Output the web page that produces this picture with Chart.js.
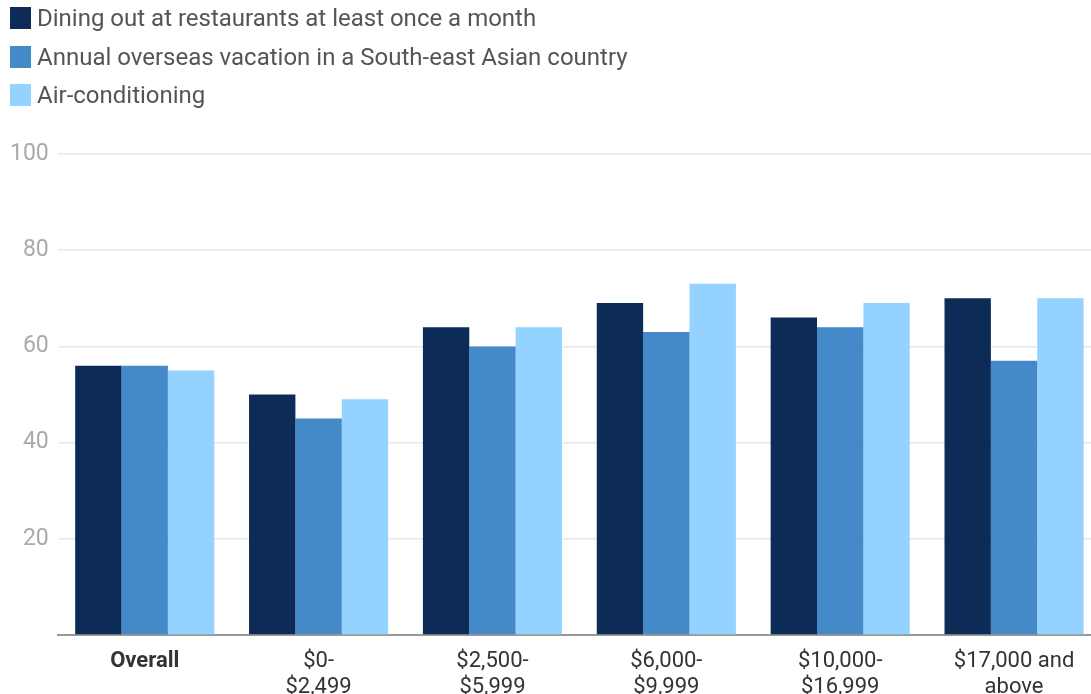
<!DOCTYPE html>
<html><head><meta charset="utf-8">
<script src="https://cdn.jsdelivr.net/npm/chart.js@4/dist/chart.umd.min.js"></script>
<style>
html,body{margin:0;padding:0;background:#fff;overflow:hidden;width:1091px;height:694px;}
#wrap{position:absolute;left:0;top:0;width:1101px;height:705px;}
#legend{position:absolute;left:10px;top:-1px;font-family:Roboto,"Noto Sans",sans-serif;font-size:24px;color:#555;z-index:2;}
.item{display:flex;align-items:center;height:38.5px;}
.box{width:21px;height:22px;margin-right:6px;}
</style></head>
<body>
<div id="wrap"><canvas id="c" width="1101" height="705"></canvas></div>
<div id="legend"></div>
<script>
const categories = [["Overall"], ["$0-", "$2,499"], ["$2,500-", "$5,999"], ["$6,000-", "$9,999"], ["$10,000-", "$16,999"], ["$17,000 and", "above"]];
const seriesNames = ["Dining out at restaurants at least once a month", "Annual overseas vacation in a South-east Asian country", "Air-conditioning"];
const dining = [56, 50, 64, 69, 66, 70];
const vacation = [56, 45, 60, 63, 64, 57];
const aircon = [55, 49, 64, 73, 69, 70];
const colors = ["#0d2b57", "#4489c8", "#94d2ff"];
const yTicks = [0, 20, 40, 60, 80, 100];

const values = [dining, vacation, aircon];
const leg = document.getElementById('legend');
seriesNames.forEach((n,i)=>{
  const d=document.createElement('div');d.className='item';
  const b=document.createElement('span');b.className='box';b.style.background=colors[i];
  const t=document.createElement('span');t.textContent=n;
  d.appendChild(b);d.appendChild(t);leg.appendChild(d);
});

new Chart(document.getElementById('c'), {
  type: 'bar',
  data: {
    labels: categories,
    datasets: seriesNames.map((n,i)=>({label:n, data:values[i], backgroundColor:colors[i], borderWidth:0}))
  },
  options: {
    responsive:false, animation:false,
    layout:{padding:{top:154,left:1,right:0,bottom:0}},
    plugins:{legend:{display:false}, tooltip:{enabled:false}},
    datasets:{bar:{categoryPercentage:0.8, barPercentage:1.0}},
    scales:{
      x:{
        grid:{display:false},
        border:{color:'#999', width:2},
        ticks:{color:'#333', padding:5, maxRotation:0,
          font:(ctx)=>({family:'Roboto', size:22, weight: ctx.index===0 ? 'bold':'normal', lineHeight:26/22})}
      },
      y:{
        min:0, max:100,
        afterBuildTicks:(ax)=>{ax.ticks = yTicks.map(v=>({value:v}));},
        grid:{color:'#e8e8e8', drawTicks:false, lineWidth:1.5},
        border:{display:false},
        ticks:{color:'#aaa', padding:9, font:{family:'Roboto', size:23},
          callback:(v)=> v===0 ? '' : v}
      }
    }
  }
});
</script>
</body></html>
